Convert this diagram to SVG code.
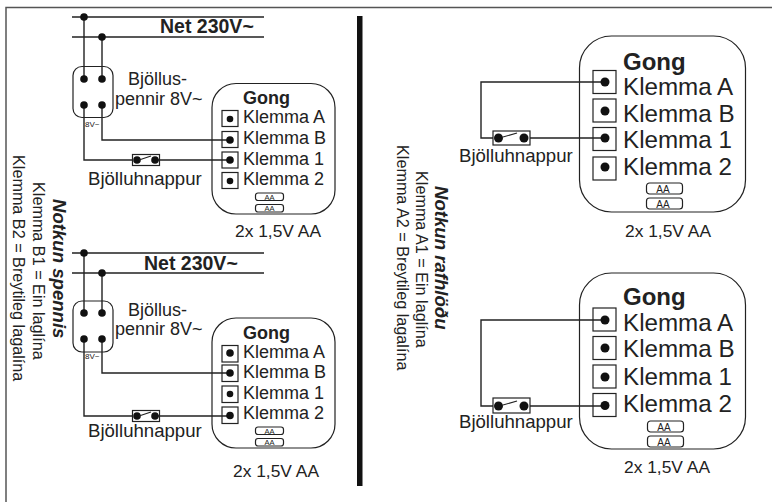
<svg xmlns="http://www.w3.org/2000/svg" width="772" height="502" viewBox="0 0 772 502">
<style>
text{font-family:"Liberation Sans",Arial,sans-serif;fill:#222}
.w{fill:none;stroke:#222;stroke-width:1.4}
.t{fill:none;stroke:#222;stroke-width:1.2}
.d{fill:#111}
.g{font-weight:bold;font-size:18px}
.gl{font-weight:bold;font-size:24px}
.s{font-size:18px}
.c{font-size:17.400px}
.m{font-size:24.200px}
.n{font-size:19.500px;font-weight:bold}
.a{font-size:7.500px;text-anchor:middle}
.al{font-size:10px;text-anchor:middle}
.r{font-size:16.200px}
.h{font-weight:bold;font-style:italic;font-size:18.600px}
.v{font-size:8px}
</style>
<defs>
<g id="bat"><rect x="0.500" y="0" width="28" height="7.500" rx="2.500" class="t"/><text x="14.500" y="6.800" class="a">AA</text><rect x="0.500" y="11.500" width="28" height="7.500" rx="2.500" class="t"/><text x="14.500" y="18.300" class="a">AA</text></g>
<g id="batL"><rect x="0.500" y="0" width="36" height="11" rx="3" class="t"/><text x="17" y="9.500" class="al">AA</text><rect x="0.500" y="15" width="36" height="11" rx="3" class="t"/><text x="17" y="24.500" class="al">AA</text></g>
</defs>
<rect x="6" y="7.500" width="800" height="600" fill="none" stroke="#555" stroke-width="1.500"/>
<rect x="357" y="16" width="5.500" height="470" fill="#111"/>

<g id="connectors">
<path class="w" d="M72 17H264M72 37H264M84 17V79M102 37V79M102 105V140H230M84 105V160H132M158 160H230"/>
<path class="w" d="M72 253H264M72 273H264M84 253V313M102 273V313M102 339V373H230M84 339V416H132M158 416H230"/>
<path class="w" d="M605 82H481V138H493M530 138H605"/>
<path class="w" d="M605 320H481V406H493M530 406H605"/>
</g>

<g id="transformer1"><rect x="73" y="66.500" width="40" height="51" rx="9" class="t"/><circle cx="84" cy="79" r="3.800" class="d"/><circle cx="102" cy="79" r="3.800" class="d"/><circle cx="84" cy="105" r="3.800" class="d"/><circle cx="102" cy="105" r="3.800" class="d"/><circle cx="84" cy="17" r="3.800" class="d"/><circle cx="102" cy="37" r="3.800" class="d"/><text x="85" y="127" class="v">8V~</text></g>
<g id="transformer2"><rect x="73" y="301" width="40" height="51" rx="9" class="t"/><circle cx="84" cy="313" r="3.800" class="d"/><circle cx="102" cy="313" r="3.800" class="d"/><circle cx="84" cy="339" r="3.800" class="d"/><circle cx="102" cy="339" r="3.800" class="d"/><circle cx="84" cy="253" r="3.800" class="d"/><circle cx="102" cy="273" r="3.800" class="d"/><text x="85" y="359" class="v">8V~</text></g>

<g id="labels-left">
<text x="160" y="33" class="n">Net 230V~</text>
<text x="128" y="85" class="s">Bjöllus-</text><text x="115" y="105" class="s">pennir 8V~</text>
<text x="88" y="185" style="font-size:18.600px">Bjölluhnappur</text>
<text x="144" y="270" class="n">Net 230V~</text>
<text x="128" y="316" class="s">Bjöllus-</text><text x="115" y="335" class="s">pennir 8V~</text>
<text x="88" y="437" style="font-size:18.600px">Bjölluhnappur</text>
</g>

<g id="switch1"><rect x="132.500" y="154.500" width="27" height="11" fill="none" stroke="#222" stroke-width="1.200"/><circle cx="137" cy="160" r="3.800" class="d"/><circle cx="155" cy="160" r="3.800" class="d"/><path class="t" d="M139 160L151 156"/></g>
<g id="switch2"><rect x="132.500" y="410.500" width="27" height="11" fill="none" stroke="#222" stroke-width="1.200"/><circle cx="137" cy="416" r="3.800" class="d"/><circle cx="155" cy="416" r="3.800" class="d"/><path class="t" d="M139 416L151 412"/></g>
<g id="switch3"><rect x="493" y="131" width="37" height="14" fill="none" stroke="#222" stroke-width="1.200"/><circle cx="498.500" cy="138" r="4.500" class="d"/><circle cx="524" cy="138" r="4.500" class="d"/><path class="t" d="M503 137L517 133"/></g>
<g id="switch4"><rect x="493" y="398" width="37" height="15" fill="none" stroke="#222" stroke-width="1.200"/><circle cx="498.500" cy="406" r="4.500" class="d"/><circle cx="524" cy="406" r="4.500" class="d"/><path class="t" d="M503 405L517 401"/></g>

<g id="gong1"><rect x="212" y="83.500" width="123" height="130.500" rx="24" class="t"/>
<text x="243" y="104" class="g">Gong</text>
<rect x="222" y="110.500" width="16" height="16" class="t"/><rect x="222" y="131.500" width="16" height="16" class="t"/><rect x="222" y="152" width="16" height="16" class="t"/><rect x="222" y="172.500" width="16" height="16" class="t"/>
<circle cx="230" cy="119" r="3.300" class="d"/><circle cx="230" cy="140" r="3.800" class="d"/><circle cx="230" cy="160" r="3.800" class="d"/><circle cx="230" cy="181" r="3.300" class="d"/>
<text x="243" y="123" class="s">Klemma A</text><text x="243" y="144" class="s">Klemma B</text><text x="243" y="165" class="s">Klemma 1</text><text x="243" y="185" class="s">Klemma 2</text>
<use href="#bat" x="255" y="193"/><text x="235" y="237" class="c">2x 1,5V AA</text></g>

<g id="gong2"><rect x="212" y="318" width="123" height="130" rx="24" class="t"/>
<text x="243" y="339" class="g">Gong</text>
<rect x="222" y="345.500" width="16" height="16.500" class="t"/><rect x="222" y="365" width="16" height="16.500" class="t"/><rect x="222" y="386" width="16" height="16.500" class="t"/><rect x="222" y="407" width="16" height="16.500" class="t"/>
<circle cx="230" cy="353" r="3.800" class="d"/><circle cx="230" cy="373" r="3.800" class="d"/><circle cx="230" cy="394" r="3.300" class="d"/><circle cx="230" cy="415.500" r="3.800" class="d"/>
<text x="243" y="358" class="s">Klemma A</text><text x="243" y="378" class="s">Klemma B</text><text x="243" y="399" class="s">Klemma 1</text><text x="243" y="419" class="s">Klemma 2</text>
<use href="#bat" x="255" y="427"/><text x="233" y="477" class="c">2x 1,5V AA</text></g>

<g id="gong3"><rect x="579.500" y="36" width="166" height="176" rx="32" class="t"/>
<text x="623" y="70" class="gl">Gong</text>
<rect x="593" y="70.500" width="23" height="23" class="t"/><rect x="593" y="99" width="23" height="23" class="t"/><rect x="593" y="127.500" width="23" height="23" class="t"/><rect x="593" y="157" width="23" height="23" class="t"/>
<circle cx="605" cy="82" r="4.500" class="d"/><circle cx="605" cy="111" r="4.500" class="d"/><circle cx="605" cy="138" r="4.500" class="d"/><circle cx="605" cy="167" r="4.500" class="d"/>
<text x="623" y="95" class="m">Klemma A</text><text x="623" y="122" class="m">Klemma B</text><text x="623" y="148" class="m">Klemma 1</text><text x="623" y="175" class="m">Klemma 2</text>
<use href="#batL" x="646" y="183"/><text x="625" y="237" class="c">2x 1,5V AA</text></g>

<g id="gong4"><rect x="579.500" y="273" width="166" height="176" rx="32" class="t"/>
<text x="623" y="305" class="gl">Gong</text>
<rect x="593" y="308" width="23" height="23" class="t"/><rect x="593" y="336.500" width="23" height="23" class="t"/><rect x="593" y="365" width="23" height="23" class="t"/><rect x="593" y="393.500" width="23" height="23" class="t"/>
<circle cx="605" cy="320" r="4.500" class="d"/><circle cx="605" cy="348" r="4.500" class="d"/><circle cx="605" cy="377" r="4.500" class="d"/><circle cx="605" cy="405.500" r="4.500" class="d"/>
<text x="623" y="331" class="m">Klemma A</text><text x="623" y="357" class="m">Klemma B</text><text x="623" y="385" class="m">Klemma 1</text><text x="623" y="412" class="m">Klemma 2</text>
<use href="#batL" x="647" y="421"/><text x="624" y="473" class="c">2x 1,5V AA</text></g>

<text x="459" y="162" style="font-size:18.600px">Bjölluhnappur</text>
<text x="459" y="428" style="font-size:18.600px">Bjölluhnappur</text>

<text transform="translate(13 155) rotate(90)" class="r">Klemma B2 = Breytileg lagalína</text>
<text transform="translate(33 182) rotate(90)" class="r">Klemma B1 = Ein laglína</text>
<text transform="translate(53 199) rotate(90)" class="h">Notkun spennis</text>
<text transform="translate(397 145) rotate(90)" class="r">Klemma A2 = Breytileg lagalína</text>
<text transform="translate(416 171) rotate(90)" class="r">Klemma A1 = Ein laglína</text>
<text transform="translate(435 186) rotate(90)" class="h">Notkun rafhlöðu</text>
</svg>
